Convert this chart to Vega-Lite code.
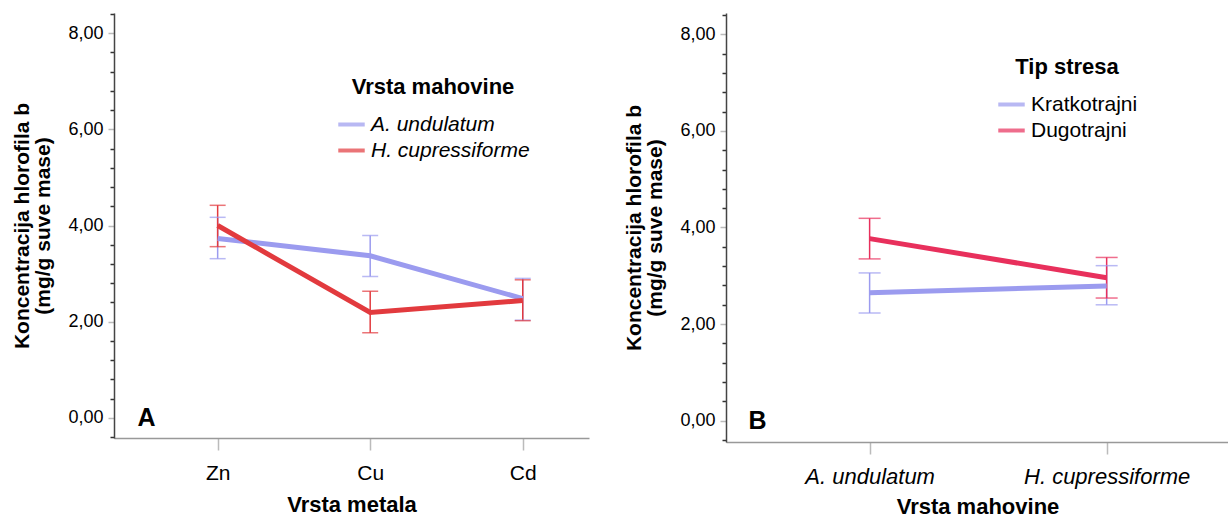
{
  "$schema": "https://vega.github.io/schema/vega-lite/v6.json",
  "padding": {"left": 11, "top": 4, "right": 0, "bottom": 0},
  "config": {
    "view": {"stroke": null},
    "font": "Liberation Sans",
    "axis": {"grid": false},
    "concat": {"spacing": 34}
  },
  "datasets": {
    "metals": [
      {"metal": "Zn", "species": "A. undulatum", "mean": 3.73, "lo": 3.31, "hi": 4.17},
      {"metal": "Cu", "species": "A. undulatum", "mean": 3.37, "lo": 2.94, "hi": 3.79},
      {"metal": "Cd", "species": "A. undulatum", "mean": 2.48, "lo": 2.03, "hi": 2.90},
      {"metal": "Zn", "species": "H. cupressiforme", "mean": 4.00, "lo": 3.56, "hi": 4.42},
      {"metal": "Cu", "species": "H. cupressiforme", "mean": 2.19, "lo": 1.77, "hi": 2.63},
      {"metal": "Cd", "species": "H. cupressiforme", "mean": 2.44, "lo": 2.02, "hi": 2.87}
    ],
    "stress": [
      {"species": "A. undulatum", "stress": "Kratkotrajni", "mean": 2.65, "lo": 2.23, "hi": 3.06},
      {"species": "H. cupressiforme", "stress": "Kratkotrajni", "mean": 2.79, "lo": 2.40, "hi": 3.21},
      {"species": "A. undulatum", "stress": "Dugotrajni", "mean": 3.77, "lo": 3.35, "hi": 4.19},
      {"species": "H. cupressiforme", "stress": "Dugotrajni", "mean": 2.96, "lo": 2.54, "hi": 3.38}
    ]
  },
  "hconcat": [
    {
      "width": 475,
      "height": 425,
      "data": {"name": "metals"},
      "encoding": {
        "x": {
          "field": "metal", "type": "nominal",
          "scale": {"type": "point", "domain": ["Zn", "Cu", "Cd"], "padding": 0.557, "align": 0.61},
          "axis": {
            "title": "Vrsta metala", "titleFontSize": 22, "titleFontWeight": "bold", "titleColor": "#000", "titlePadding": 11,
            "labelFontSize": 21, "labelColor": "#000", "labelPadding": 12, "labelAngle": 0,
            "tickSize": 12, "tickColor": "#bbb", "tickWidth": 1.5, "domainColor": "#999", "domainWidth": 1.5
          }
        }
      },
      "layer": [
        {
          "mark": {"type": "rule", "strokeWidth": 1.5},
          "encoding": {
            "y": {"field": "lo", "type": "quantitative"},
            "y2": {"field": "hi"},
            "color": {"field": "species", "type": "nominal", "scale": {"domain": ["A. undulatum", "H. cupressiforme"], "range": ["#9b9bef", "#e23a3e"]}}
          }
        },
        {
          "mark": {"type": "tick", "thickness": 1.5, "size": 16},
          "encoding": {
            "y": {"field": "lo", "type": "quantitative"},
            "color": {"field": "species", "type": "nominal"}
          }
        },
        {
          "mark": {"type": "tick", "thickness": 1.5, "size": 16},
          "encoding": {
            "y": {"field": "hi", "type": "quantitative"},
            "color": {"field": "species", "type": "nominal"}
          }
        },
        {
          "mark": {"type": "line", "strokeWidth": 5},
          "encoding": {
            "y": {
              "field": "mean", "type": "quantitative",
              "scale": {"domain": [-0.42, 8.42], "nice": false, "zero": false},
              "axis": {
                "title": ["Koncentracija hlorofila b", "(mg/g suve mase)"],
                "titleFontSize": 21, "titleFontWeight": "bold", "titleColor": "#000", "titlePadding": 14, "titleLineHeight": 21,
                "values": [-0.4, 0, 0.4, 0.8, 1.2, 1.6, 2, 2.4, 2.8, 3.2, 3.6, 4, 4.4, 4.8, 5.2, 5.6, 6, 6.4, 6.8, 7.2, 7.6, 8, 8.4],
                "tickCount": 40,
                "labelExpr": "abs(datum.value/2 - round(datum.value/2)) < 0.01 ? replace(format(datum.value, '.2f'), '.', ',') : ''",
                "labelFontSize": 18, "labelColor": "#000", "labelPadding": 5, "labelOverlap": false, "labelBound": false, "labelFlush": false,
                "tickColor": {"condition": {"test": "abs(datum.value/2 - round(datum.value/2)) < 0.01", "value": "#bbb"}, "value": "#333"},
                "tickSize": {"condition": {"test": "abs(datum.value/2 - round(datum.value/2)) < 0.01", "value": 6}, "value": 4},
                "tickWidth": 1.5,
                "domainColor": "#444", "domainWidth": 1.5
              }
            },
            "color": {
              "field": "species", "type": "nominal",
              "legend": {
                "title": "Vrsta mahovine", "orient": "none", "legendX": 222, "legendY": 64,
                "titleFontSize": 22, "titleFontWeight": "bold", "titleColor": "#000", "titleAnchor": "middle", "titlePadding": 10,
                "labelFontSize": 21, "labelFontStyle": "italic", "labelColor": "#000", "labelOffset": 4,
                "symbolType": "stroke", "symbolStrokeWidth": 4, "symbolSize": 700, "rowPadding": 0, "padding": 0
              }
            }
          }
        },
        {
          "data": {"values": [{"panel": "A"}]},
          "mark": {"type": "text", "fontSize": 25, "fontWeight": "bold", "color": "#000", "align": "center", "baseline": "middle", "dx": -71},
          "encoding": {
            "x": {"datum": "Zn"},
            "y": {"datum": 0},
            "text": {"field": "panel"}
          }
        }
      ]
    },
    {
      "width": 503,
      "height": 429,
      "data": {"name": "stress"},
      "encoding": {
        "x": {
          "field": "species", "type": "nominal",
          "scale": {"type": "point", "domain": ["A. undulatum", "H. cupressiforme"], "padding": 0.561, "align": 0.54},
          "axis": {
            "title": "Vrsta mahovine", "titleFontSize": 22, "titleFontWeight": "bold", "titleColor": "#000", "titlePadding": 9,
            "labelFontSize": 22, "labelFontStyle": "italic", "labelColor": "#000", "labelPadding": 12, "labelAngle": 0,
            "tickSize": 12, "tickColor": "#bbb", "tickWidth": 1.5, "domainColor": "#999", "domainWidth": 1.5
          }
        }
      },
      "layer": [
        {
          "mark": {"type": "rule", "strokeWidth": 1.5},
          "encoding": {
            "y": {"field": "lo", "type": "quantitative"},
            "y2": {"field": "hi"},
            "color": {"field": "stress", "type": "nominal", "scale": {"domain": ["Kratkotrajni", "Dugotrajni"], "range": ["#9b9bef", "#e8305c"]}}
          }
        },
        {
          "mark": {"type": "tick", "thickness": 1.5, "size": 22},
          "encoding": {
            "y": {"field": "lo", "type": "quantitative"},
            "color": {"field": "stress", "type": "nominal"}
          }
        },
        {
          "mark": {"type": "tick", "thickness": 1.5, "size": 22},
          "encoding": {
            "y": {"field": "hi", "type": "quantitative"},
            "color": {"field": "stress", "type": "nominal"}
          }
        },
        {
          "mark": {"type": "line", "strokeWidth": 5},
          "encoding": {
            "y": {
              "field": "mean", "type": "quantitative",
              "scale": {"domain": [-0.44, 8.44], "nice": false, "zero": false},
              "axis": {
                "title": ["Koncentracija hlorofila b", "(mg/g suve mase)"],
                "titleFontSize": 21, "titleFontWeight": "bold", "titleColor": "#000", "titlePadding": 14, "titleLineHeight": 21,
                "values": [-0.4, 0, 0.4, 0.8, 1.2, 1.6, 2, 2.4, 2.8, 3.2, 3.6, 4, 4.4, 4.8, 5.2, 5.6, 6, 6.4, 6.8, 7.2, 7.6, 8, 8.4],
                "tickCount": 40,
                "labelExpr": "abs(datum.value/2 - round(datum.value/2)) < 0.01 ? replace(format(datum.value, '.2f'), '.', ',') : ''",
                "labelFontSize": 18, "labelColor": "#000", "labelPadding": 5, "labelOverlap": false, "labelBound": false, "labelFlush": false,
                "tickColor": {"condition": {"test": "abs(datum.value/2 - round(datum.value/2)) < 0.01", "value": "#bbb"}, "value": "#333"},
                "tickSize": {"condition": {"test": "abs(datum.value/2 - round(datum.value/2)) < 0.01", "value": 6}, "value": 4},
                "tickWidth": 1.5,
                "domainColor": "#444", "domainWidth": 1.5
              }
            },
            "color": {
              "field": "stress", "type": "nominal",
              "legend": {
                "title": "Tip stresa", "orient": "none", "legendX": 270, "legendY": 44,
                "titleFontSize": 22, "titleFontWeight": "bold", "titleColor": "#000", "titleAnchor": "middle", "titlePadding": 10,
                "labelFontSize": 21, "labelColor": "#000", "labelOffset": 4,
                "symbolType": "stroke", "symbolStrokeWidth": 4, "symbolSize": 700, "rowPadding": 0, "padding": 0
              }
            }
          }
        },
        {
          "data": {"values": [{"panel": "B"}]},
          "mark": {"type": "text", "fontSize": 25, "fontWeight": "bold", "color": "#000", "align": "center", "baseline": "middle", "dx": -112},
          "encoding": {
            "x": {"datum": "A. undulatum"},
            "y": {"datum": 0},
            "text": {"field": "panel"}
          }
        }
      ]
    }
  ],
  "resolve": {"scale": {"color": "independent", "x": "independent", "y": "independent"}}
}
